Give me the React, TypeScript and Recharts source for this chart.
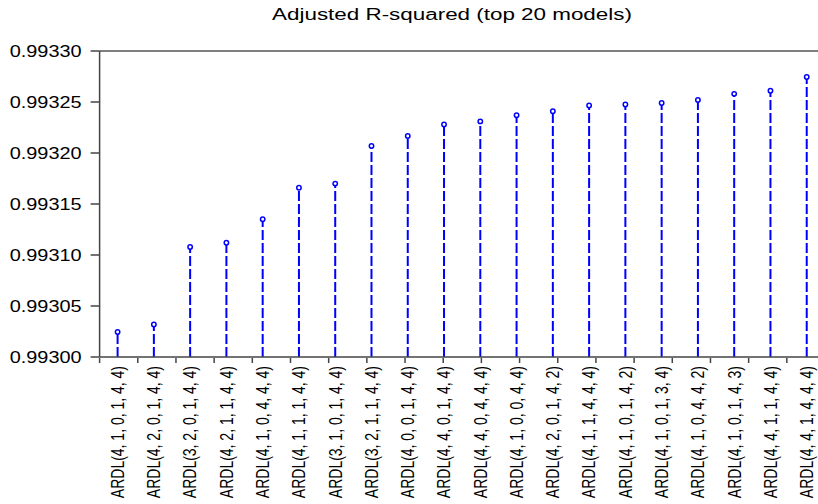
import React from 'react';
import { BarChart, Bar, XAxis, YAxis, ReferenceLine } from 'recharts';

const models: string[] = [
  'ARDL(4, 1, 0, 1, 4, 4)',
  'ARDL(4, 2, 0, 1, 4, 4)',
  'ARDL(3, 2, 0, 1, 4, 4)',
  'ARDL(4, 2, 1, 1, 4, 4)',
  'ARDL(4, 1, 0, 4, 4, 4)',
  'ARDL(4, 1, 1, 1, 4, 4)',
  'ARDL(3, 1, 0, 1, 4, 4)',
  'ARDL(3, 2, 1, 1, 4, 4)',
  'ARDL(4, 0, 0, 1, 4, 4)',
  'ARDL(4, 4, 0, 1, 4, 4)',
  'ARDL(4, 4, 0, 4, 4, 4)',
  'ARDL(4, 1, 0, 0, 4, 4)',
  'ARDL(4, 2, 0, 1, 4, 2)',
  'ARDL(4, 1, 1, 4, 4, 4)',
  'ARDL(4, 1, 0, 1, 4, 2)',
  'ARDL(4, 1, 0, 1, 3, 4)',
  'ARDL(4, 1, 0, 4, 4, 2)',
  'ARDL(4, 1, 0, 1, 4, 3)',
  'ARDL(4, 4, 1, 1, 4, 4)',
  'ARDL(4, 4, 1, 4, 4, 4)',
];

const adjR2: number[] = [
  0.9930245, 0.9930318, 0.9931078, 0.993112, 0.993135, 0.993166, 0.99317,
  0.9932069, 0.9932167, 0.993228, 0.993231, 0.993237, 0.993241, 0.9932465,
  0.9932475, 0.993249, 0.993252, 0.993258, 0.993261, 0.9932745,
];

const yTicks: number[] = [0.993, 0.99305, 0.9931, 0.99315, 0.9932, 0.99325, 0.9933];
const edgeTicks: number[] = [0, 1, 2, 3, 4, 5, 6, 7, 8, 9, 10, 11, 12, 13, 14, 15, 16, 17, 18, 19, 20];

const titleText = 'Adjusted R-squared (top 20 models)';

const data = models.map((name, i) => ({ name, value: adjR2[i] }));

const FONT = '"Liberation Sans", Arial, sans-serif';
const BLUE = '#0000ff';
const AXIS = '#444444';

const Stem = (props: any) => {
  const { x, y, width, height } = props;
  const cx = x + width / 2;
  return (
    <g>
      <line x1={cx} x2={cx} y1={y + height} y2={y} stroke={BLUE} strokeWidth={2} strokeDasharray="10 3" />
      <circle cx={cx} cy={y} r={2.2} fill="#ffffff" stroke={BLUE} strokeWidth={1.5} />
    </g>
  );
};

const YTick = (props: any) => {
  const { x, y, payload } = props;
  return (
    <g transform={`translate(${x},${y})`}>
      <text transform="scale(1.245,1)" textAnchor="end" dy="0.36em" fontSize={16} fontFamily={FONT} fill="#000">
        {Number(payload.value).toFixed(5)}
      </text>
    </g>
  );
};

const XTick = (props: any) => {
  const { x, y, payload } = props;
  return (
    <g transform={`translate(${x},${y})`}>
      <text transform="scale(1.26,1) rotate(-90)" textAnchor="end" dy="0.35em" fontSize={14} fontFamily={FONT} fill="#000">
        {payload.value}
      </text>
    </g>
  );
};

const NoTick = () => <g />;

export default function App() {
  return (
    <div style={{ position: 'fixed', left: 0, top: 0, width: 818, height: 504, overflow: 'hidden', background: '#fff' }}>
      <div
        style={{
          position: 'absolute',
          left: 452,
          top: 6,
          transform: 'translateX(-50%) scaleX(1.4)',
          whiteSpace: 'nowrap',
          fontFamily: FONT,
          fontSize: 16,
          lineHeight: '18px',
          color: '#000',
        }}
      >
        {titleText}
      </div>
      <BarChart width={830} height={504} data={data} margin={{ top: 51, right: 5, bottom: 0, left: 0 }} barCategoryGap={0}>
        <XAxis
          dataKey="name"
          interval={0}
          height={1}
          tickLine={false}
          tickSize={6}
          tickMargin={3}
          axisLine={{ stroke: AXIS, strokeWidth: 1.5 }}
          tick={<XTick />}
        />
        <XAxis
          xAxisId="edge"
          type="number"
          domain={[0, 20]}
          ticks={edgeTicks}
          allowDataOverflow
          tick={<NoTick />}
          tickSize={5}
          height={146}
          axisLine={false}
          tickLine={{ stroke: AXIS, strokeWidth: 1.5 }}
        />
        <YAxis
          width={99.6}
          type="number"
          domain={[0.993, 0.9933]}
          ticks={yTicks}
          allowDataOverflow
          tickSize={9}
          tickMargin={9}
          axisLine={{ stroke: AXIS, strokeWidth: 1.5 }}
          tickLine={{ stroke: AXIS, strokeWidth: 1.5 }}
          tick={<YTick />}
        />
        <ReferenceLine y={0.9933} stroke="#555555" strokeWidth={1.5} />
        <Bar dataKey="value" shape={<Stem />} isAnimationActive={false} />
      </BarChart>
    </div>
  );
}
